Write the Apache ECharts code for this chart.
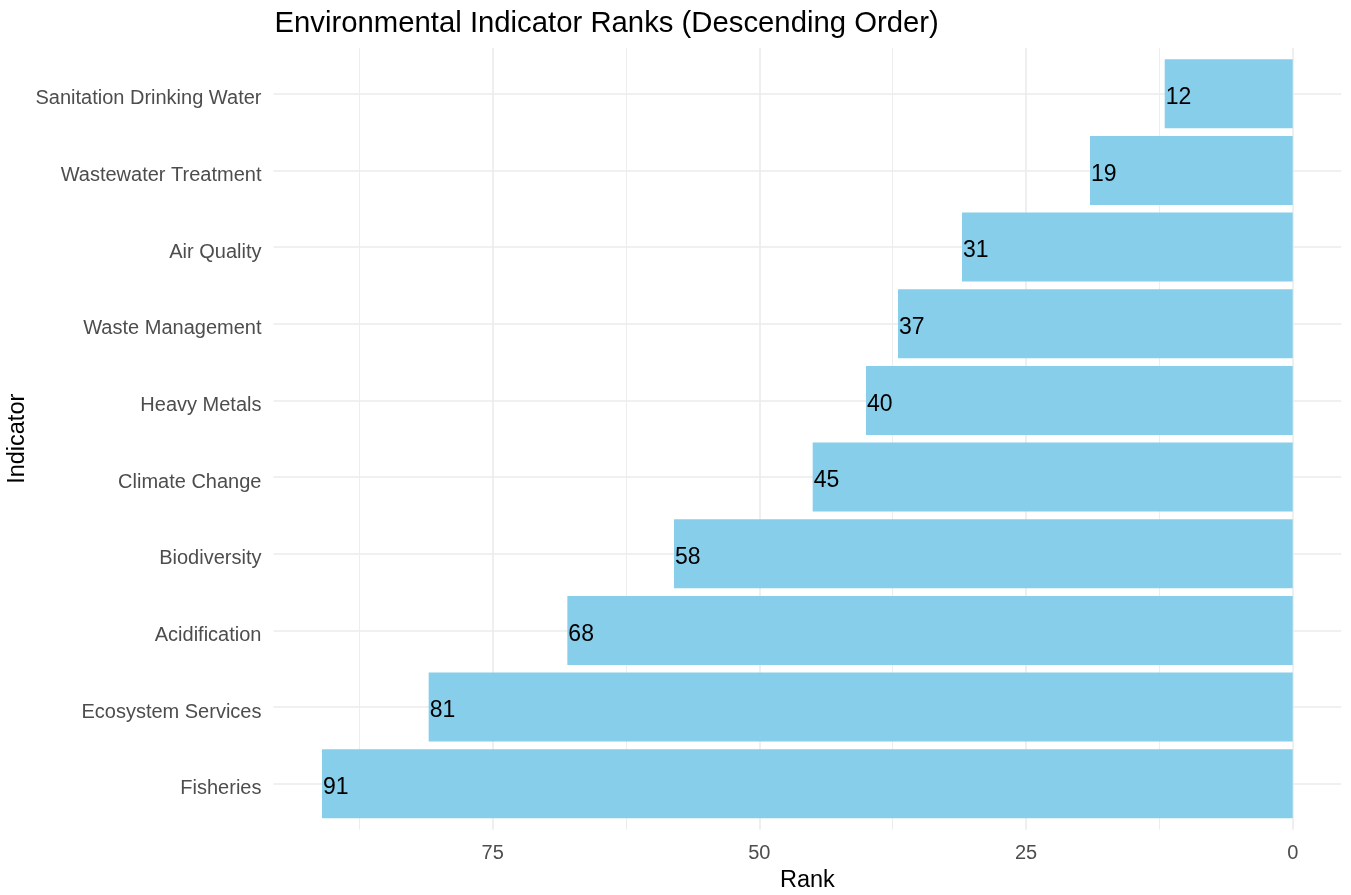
<!DOCTYPE html>
<html>
<head>
<meta charset="utf-8">
<script src="https://cdn.jsdelivr.net/npm/echarts@6/dist/echarts.min.js"></script>
<style>
  html, body { margin: 0; padding: 0; background: #ffffff; }
  #chart { width: 1351px; height: 895px; }
</style>
</head>
<body>
<div id="chart"></div>
<script>
// Indicators listed top to bottom, with their ranks
const indicators = [
  'Sanitation Drinking Water',
  'Wastewater Treatment',
  'Air Quality',
  'Waste Management',
  'Heavy Metals',
  'Climate Change',
  'Biodiversity',
  'Acidification',
  'Ecosystem Services',
  'Fisheries'
];
const ranks = [12, 19, 31, 37, 40, 45, 58, 68, 81, 91];

const titleText = 'Environmental Indicator Ranks (Descending Order)';
const xTitle = 'Rank';
const yTitle = 'Indicator';

// Layout of the plotting panel (pixels)
const FONT = '"Liberation Sans", Arial, Helvetica, sans-serif';
const W = 1351, H = 895;
const xZero = 1292.7;            // pixel of rank 0
const pxPerUnit = 10.667;        // horizontal scale
const xMin = -4.55, xMax = 95.55; // expanded rank range
const px = v => xZero - v * pxPerUnit;
const band = 76.66;              // category spacing
const firstCenter = 93.8;        // centre of top category
const lastCenter = firstCenter + band * (indicators.length - 1);
const panelTop = firstCenter - 0.6 * band;
const panelBottom = lastCenter + 0.6 * band;
const panelLeft = px(xMax), panelRight = px(xMin);

const gridColor = '#ebebeb';
const hidden = { show: false };

const chart = echarts.init(document.getElementById('chart'), null, { renderer: 'canvas' });

const fixedGrid = (left, right, top, bottom) => ({
  left, right, top, bottom, containLabel: false, outerBoundsMode: 'none'
});

chart.setOption({
  backgroundColor: '#ffffff',
  animation: false,
  title: {
    text: titleText,
    left: panelLeft + 1,
    top: 9,
    padding: 0,
    textStyle: { fontFamily: FONT, fontSize: 29.3, fontWeight: 'normal', color: '#000000' }
  },
  grid: [
    // bars
    fixedGrid(panelLeft, W - panelRight, firstCenter - band / 2, H - (lastCenter + band / 2)),
    // horizontal grid lines at category centres
    fixedGrid(panelLeft, W - panelRight, firstCenter, H - lastCenter),
    // major vertical grid lines + tick labels
    fixedGrid(px(75), W - px(0), panelTop, H - panelBottom),
    // minor vertical grid lines
    fixedGrid(px(87.5), W - px(12.5), panelTop, H - panelBottom)
  ],
  xAxis: [
    {
      gridIndex: 0, type: 'value', min: xMin, max: xMax, inverse: true,
      axisLine: hidden, axisTick: hidden, axisLabel: hidden, splitLine: hidden,
      name: xTitle, nameLocation: 'middle', nameGap: 46, nameMoveOverlap: false,
      nameTextStyle: { fontFamily: FONT, fontSize: 23.5, color: '#000000' }
    },
    { gridIndex: 1, type: 'value', min: 0, max: 1, show: false },
    {
      gridIndex: 2, type: 'value', min: 0, max: 75, interval: 25, inverse: true,
      axisLine: hidden, axisTick: hidden,
      axisLabel: { margin: 14, fontFamily: FONT, fontSize: 20, color: '#4d4d4d' },
      splitLine: { show: true, lineStyle: { color: gridColor, width: 1.6 } }
    },
    {
      gridIndex: 3, type: 'value', min: 12.5, max: 87.5, interval: 25, inverse: true,
      axisLine: hidden, axisTick: hidden, axisLabel: hidden,
      splitLine: { show: true, lineStyle: { color: gridColor, width: 0.9 } }
    }
  ],
  yAxis: [
    {
      gridIndex: 0, type: 'category', data: indicators, inverse: true,
      axisLine: hidden, axisTick: hidden, splitLine: hidden,
      axisLabel: {
        margin: 12, fontFamily: FONT, fontSize: 20, color: '#4d4d4d',
        verticalAlign: 'top', lineHeight: 10
      },
      name: yTitle, nameLocation: 'middle', nameGap: 244, nameRotate: 90, nameMoveOverlap: false,
      nameTextStyle: { fontFamily: FONT, fontSize: 23.5, color: '#000000' }
    },
    {
      gridIndex: 1, type: 'value', min: 1, max: 10, interval: 1,
      axisLine: hidden, axisTick: hidden, axisLabel: hidden,
      splitLine: { show: true, lineStyle: { color: gridColor, width: 1.6 } }
    },
    { gridIndex: 2, type: 'value', min: 0, max: 1, show: false },
    { gridIndex: 3, type: 'value', min: 0, max: 1, show: false }
  ],
  series: [
    {
      type: 'bar',
      xAxisIndex: 0,
      yAxisIndex: 0,
      data: ranks,
      barCategoryGap: '10%',
      itemStyle: { color: '#87CEEB' },
      label: {
        show: true,
        position: 'insideLeft',
        distance: 1,
        offset: [0, 4],
        fontFamily: FONT,
        fontSize: 23,
        color: '#000000',
        formatter: p => String(p.value)
      }
    }
  ]
});
</script>
</body>
</html>
